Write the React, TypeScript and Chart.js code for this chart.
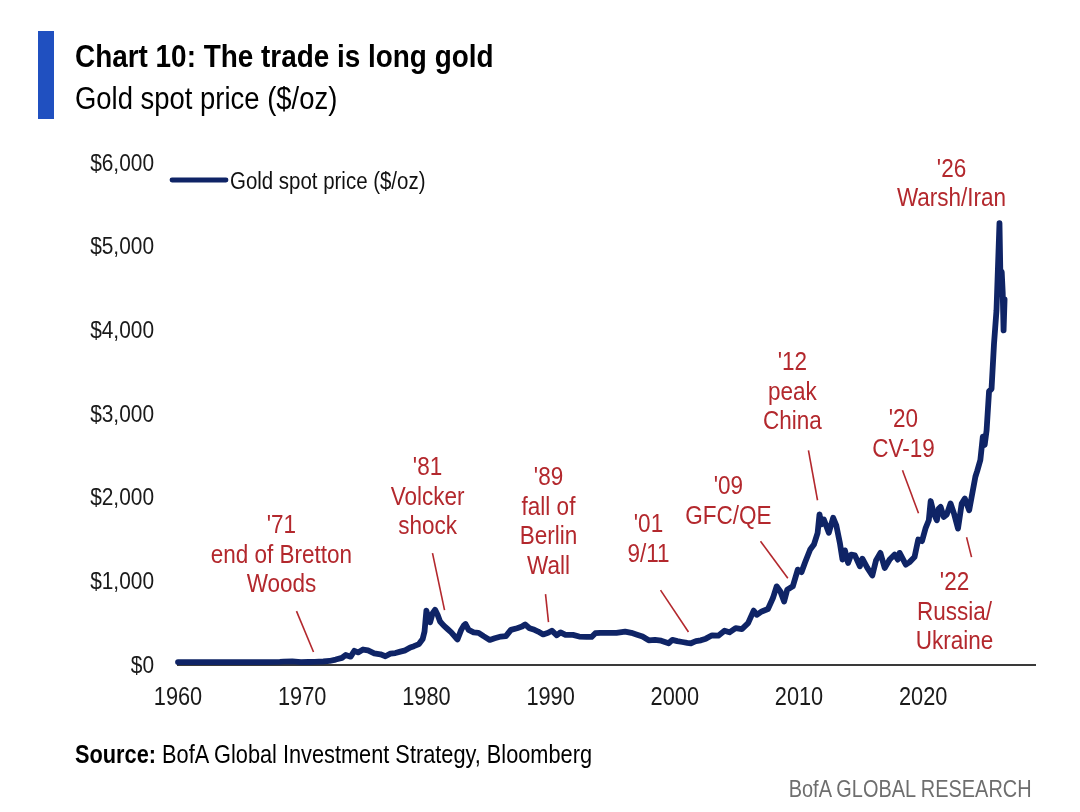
import { useEffect, useRef } from "react";
import { Chart, registerables } from "chart.js";

Chart.register(...registerables);

const FONT = '"Liberation Sans", Arial, sans-serif';
const RED = "#b3282d";
const NAVY = "#0f2466";

// gold spot price (year, $/oz)
const goldYears = [
  1960.0, 1961.0, 1962.0, 1963.0, 1964.0, 1965.0, 1966.0, 1967.0, 1968.2, 1968.5,
  1969.2, 1969.9, 1970.5, 1971.0, 1971.7, 1972.2, 1972.7, 1973.2, 1973.5, 1973.9,
  1974.2, 1974.5, 1974.9, 1975.3, 1975.8, 1976.3, 1976.7, 1977.1, 1977.5, 1977.9,
  1978.3, 1978.7, 1979.0, 1979.4, 1979.7, 1979.85, 1980.0, 1980.15, 1980.3, 1980.5,
  1980.7, 1980.9, 1981.1, 1981.4, 1981.7, 1982.0, 1982.4, 1982.5, 1982.8, 1983.0,
  1983.15, 1983.4, 1983.8, 1984.2, 1984.6, 1985.1, 1985.5, 1986.0, 1986.4, 1986.8,
  1987.3, 1987.7, 1987.95, 1988.3, 1988.7, 1989.0, 1989.4, 1989.8, 1990.1, 1990.5,
  1990.8, 1991.2, 1991.8, 1992.3, 1992.9, 1993.3, 1993.6, 1994.0, 1994.6, 1995.3,
  1996.0, 1996.5, 1996.9, 1997.4, 1997.9, 1998.4, 1998.9, 1999.5, 1999.8, 2000.2,
  2000.6, 2001.0, 2001.3, 2001.7, 2002.1, 2002.5, 2003.0, 2003.5, 2004.0, 2004.4,
  2004.9, 2005.4, 2005.9, 2006.35, 2006.6, 2007.0, 2007.5, 2007.9, 2008.2, 2008.5,
  2008.8, 2009.05, 2009.5, 2009.9, 2010.2, 2010.5, 2010.9, 2011.2, 2011.5, 2011.65,
  2011.8, 2012.0, 2012.4, 2012.75, 2013.0, 2013.3, 2013.5, 2013.7, 2013.95, 2014.2,
  2014.5, 2014.9, 2015.1, 2015.5, 2015.9, 2016.2, 2016.55, 2016.9, 2017.3, 2017.7,
  2017.95, 2018.1, 2018.6, 2018.9, 2019.3, 2019.6, 2019.9, 2020.2, 2020.45, 2020.6,
  2020.85, 2021.1, 2021.25, 2021.4, 2021.65, 2021.9, 2022.2, 2022.5, 2022.8, 2023.1,
  2023.35, 2023.7, 2023.95, 2024.2, 2024.35, 2024.6, 2024.8, 2024.95, 2025.1, 2025.3,
  2025.5, 2025.7, 2025.9, 2026.14, 2026.22, 2026.32, 2026.4, 2026.47, 2026.55,
];
const goldPrices = [
  35, 35, 35, 35, 35, 35, 35, 35, 38, 40,
  43, 35, 36, 38, 42, 48, 65, 85, 120, 100,
  170, 150, 185, 175, 140, 128, 105, 135, 143, 160,
  175, 210, 225, 250, 310, 400, 650, 560, 510, 620,
  660, 600, 520, 470, 430, 390, 320, 305, 420, 470,
  490, 420, 390, 385, 345, 300, 320, 340, 345, 420,
  440, 460, 485, 440, 420, 400, 365, 385, 410, 355,
  390, 360, 360, 340, 335, 335, 380, 385, 385, 385,
  400, 385, 365, 340, 295, 300, 290, 260, 300, 285,
  275, 265, 260, 285, 295, 315, 355, 350, 410, 390,
  440, 430, 500, 650, 600, 640, 670, 800, 940, 880,
  760, 900, 940, 1140, 1110, 1230, 1380, 1440, 1580, 1800,
  1680, 1740, 1580, 1760, 1670, 1450, 1260, 1370, 1220, 1320,
  1310, 1180, 1270, 1160, 1070, 1250, 1340, 1160, 1260, 1320,
  1260, 1340, 1200, 1230, 1290, 1500, 1480, 1640, 1730, 1960,
  1810, 1730, 1870, 1890, 1770, 1800, 1930, 1800, 1630, 1930,
  1990, 1850, 2050, 2250, 2320, 2450, 2730, 2630, 2800, 3270,
  3300, 3840, 4240, 5280, 4600, 4700, 4450, 4000, 4370,
];

const xTicks = [1960, 1970, 1980, 1990, 2000, 2010, 2020];
const xTickLabels = ["1960", "1970", "1980", "1990", "2000", "2010", "2020"];
const yTicks = [0, 1000, 2000, 3000, 4000, 5000, 6000];
const yTickLabels = ["$0", "$1,000", "$2,000", "$3,000", "$4,000", "$5,000", "$6,000"];

// event call-outs: text centre and leader line, in (year, $/oz)
const notes = [
  { lines: ["'71", "end of Bretton", "Woods"], at: [1968.33, 1671], from: [1969.54, 644], to: [1970.91, 155] },
  { lines: ["'81", "Volcker", "shock"], at: [1980.09, 2363], from: [1980.49, 1337], to: [1981.46, 656] },
  { lines: ["'89", "fall of", "Berlin", "Wall"], at: [1989.83, 2243], from: [1989.59, 847], to: [1989.83, 513] },
  { lines: ["'01", "9/11"], at: [1997.88, 1683], from: [1998.85, 895], to: [2001.1, 394] },
  { lines: ["'09", "GFC/QE"], at: [2004.32, 2136], from: [2006.9, 1480], to: [2009.1, 1038] },
  { lines: ["'12", "peak", "China"], at: [2009.47, 3616], from: [2010.76, 2566], to: [2011.49, 1969] },
  { lines: ["'20", "CV-19"], at: [2018.41, 2936], from: [2018.33, 2327], to: [2019.62, 1814] },
  { lines: ["'22", "Russia/", "Ukraine"], at: [2022.52, 990], from: [2023.49, 1527], to: [2023.89, 1289] },
  { lines: ["'26", "Warsh/Iran"], at: [2022.28, 5931], from: null, to: null },
];

// the source font is a narrow humanist sans; squeeze Liberation Sans to match
function squeezed(ctx: CanvasRenderingContext2D, text: string, x: number, y: number, align: CanvasTextAlign, sx: number) {
  ctx.save();
  ctx.translate(x, y);
  ctx.scale(sx, 1);
  ctx.textAlign = align;
  ctx.textBaseline = "alphabetic";
  ctx.fillText(text, 0, 0);
  ctx.restore();
}

const notesPlugin = {
  id: "notes",
  afterDraw(chart: any) {
    const { ctx, scales, chartArea } = chart;
    const px = (v: number) => scales.x.getPixelForValue(v);
    const py = (v: number) => scales.y.getPixelForValue(v);
    ctx.save();

    // tick labels
    ctx.fillStyle = "#1a1a1a";
    ctx.font = `24px ${FONT}`;
    yTicks.forEach((v, i) => squeezed(ctx, yTickLabels[i], chartArea.left - 24, py(v) + 7.5, "right", 0.87));
    ctx.font = `25px ${FONT}`;
    xTicks.forEach((v, i) => squeezed(ctx, xTickLabels[i], px(v), chartArea.bottom + 40, "center", 0.87));

    // call-outs
    ctx.fillStyle = RED;
    ctx.strokeStyle = RED;
    ctx.lineWidth = 1.6;
    ctx.font = `25px ${FONT}`;
    for (const n of notes) {
      const x = px(n.at[0]);
      const y = py(n.at[1]);
      n.lines.forEach((t, i) => squeezed(ctx, t, x, y + 8 + i * 29.5, "center", 0.9));
      if (n.from && n.to) {
        ctx.beginPath();
        ctx.moveTo(px(n.from[0]), py(n.from[1]));
        ctx.lineTo(px(n.to[0]), py(n.to[1]));
        ctx.stroke();
      }
    }

    // legend
    const lx = chartArea.left - 6;
    const ly = chartArea.top + 17;
    ctx.strokeStyle = NAVY;
    ctx.lineWidth = 4.8;
    ctx.lineCap = "round";
    ctx.beginPath();
    ctx.moveTo(lx, ly);
    ctx.lineTo(lx + 54, ly);
    ctx.stroke();
    ctx.fillStyle = "#111";
    ctx.font = `23.5px ${FONT}`;
    squeezed(ctx, "Gold spot price ($/oz)", lx + 58, ly + 8.5, "left", 0.87);
    ctx.restore();
  },
};

function GoldChart() {
  const canvasRef = useRef<HTMLCanvasElement>(null);

  useEffect(() => {
    const canvas = canvasRef.current;
    if (!canvas) return;
    const chart = new Chart(canvas, {
      type: "line",
      data: {
        datasets: [
          {
            label: "Gold spot price ($/oz)",
            data: goldYears.map((x, i) => ({ x, y: goldPrices[i] })),
            borderColor: NAVY,
            borderWidth: 5.8,
            borderJoinStyle: "round",
            borderCapStyle: "round",
            pointRadius: 0,
            tension: 0,
            clip: 8,
          },
        ],
      },
      options: {
        animation: false,
        responsive: false,
        layout: { padding: { left: 0, top: 163, right: 45, bottom: 0 } },
        plugins: { legend: { display: false }, tooltip: { enabled: false } },
        scales: {
          x: {
            type: "linear",
            min: 1960,
            max: 2029,
            grid: { display: false, drawTicks: false },
            border: { display: true, color: "#3a3a3a", width: 2 },
            afterBuildTicks: (s: any) => {
              s.ticks = xTicks.map((value) => ({ value }));
            },
            afterFit: (s: any) => {
              s.height = 147;
            },
            ticks: { display: false },
          },
          y: {
            min: 0,
            max: 6000,
            grid: { display: false, drawTicks: false },
            border: { display: false },
            afterBuildTicks: (s: any) => {
              s.ticks = yTicks.map((value) => ({ value }));
            },
            afterFit: (s: any) => {
              s.width = 178;
            },
            ticks: { display: false },
          },
        },
      },
      plugins: [notesPlugin],
    } as any);
    return () => chart.destroy();
  }, []);

  return (
    <canvas
      ref={canvasRef}
      width={1080}
      height={812}
      style={{ position: "absolute", left: 0, top: 0, width: 1080, height: 812 }}
    />
  );
}

const narrow = (sx: number, origin = "left top") => ({
  display: "inline-block",
  transform: `scaleX(${sx})`,
  transformOrigin: origin,
  whiteSpace: "nowrap" as const,
});

export default function App() {
  return (
    <div
      style={{
        position: "absolute",
        left: 0,
        top: 0,
        width: 1080,
        height: 812,
        background: "#fff",
        fontFamily: FONT,
        color: "#000",
        overflow: "hidden",
      }}
    >
      <GoldChart />
      <div style={{ position: "absolute", left: 38, top: 31, width: 16, height: 88, background: "#2050c0" }} />
      <div style={{ position: "absolute", left: 75, top: 41, fontSize: 31, lineHeight: "31px", fontWeight: 700 }}>
        <span style={narrow(0.9)}>Chart 10: The trade is long gold</span>
      </div>
      <div style={{ position: "absolute", left: 75, top: 83, fontSize: 31, lineHeight: "31px" }}>
        <span style={narrow(0.885)}>Gold spot price ($/oz)</span>
      </div>
      <div style={{ position: "absolute", left: 75, top: 742, fontSize: 25, lineHeight: "25px" }}>
        <span style={narrow(0.87)}>
          <b>Source:</b> BofA Global Investment Strategy, Bloomberg
        </span>
      </div>
      <div style={{ position: "absolute", right: 48, top: 777, fontSize: 24, lineHeight: "24px", color: "#6e6e6e" }}>
        <span style={narrow(0.83, "right top")}>BofA GLOBAL RESEARCH</span>
      </div>
    </div>
  );
}
